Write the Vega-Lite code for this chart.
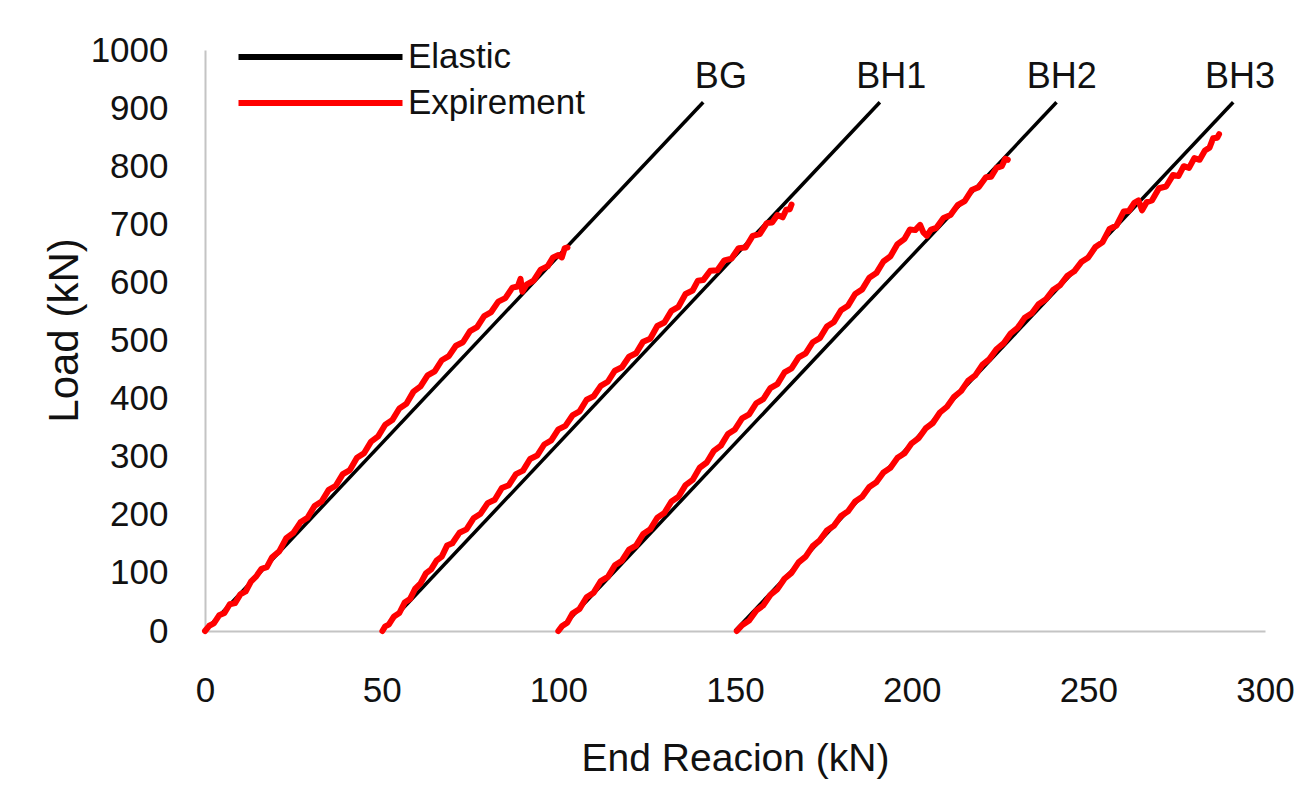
{
  "$schema": "https://vega.github.io/schema/vega-lite/v6.json",
  "width": 1060,
  "height": 581,
  "autosize": {"type": "none"},
  "padding": {"left": 205, "top": 50, "right": 31, "bottom": 161},
  "background": "white",
  "config": {
    "view": {"stroke": null},
    "font": "Liberation Sans, Arial, sans-serif"
  },
  "datasets": {
    "elastic": [
      {"series": "Elastic", "girder": "BG", "er": 0, "load": 0},
      {"series": "Elastic", "girder": "BG", "er": 141, "load": 910},
      {"series": "Elastic", "girder": "BH1", "er": 50, "load": 0},
      {"series": "Elastic", "girder": "BH1", "er": 191, "load": 910},
      {"series": "Elastic", "girder": "BH2", "er": 100, "load": 0},
      {"series": "Elastic", "girder": "BH2", "er": 241, "load": 910},
      {"series": "Elastic", "girder": "BH3", "er": 150, "load": 0},
      {"series": "Elastic", "girder": "BH3", "er": 291, "load": 910}
    ],
    "experiment": [
      {"series": "Expirement", "girder": "BG", "er": 0, "load": 0},
      {"series": "Expirement", "girder": "BG", "er": 1.2, "load": 9},
      {"series": "Expirement", "girder": "BG", "er": 2.5, "load": 13},
      {"series": "Expirement", "girder": "BG", "er": 4, "load": 27},
      {"series": "Expirement", "girder": "BG", "er": 5.5, "load": 31},
      {"series": "Expirement", "girder": "BG", "er": 7, "load": 46},
      {"series": "Expirement", "girder": "BG", "er": 8.5, "load": 48},
      {"series": "Expirement", "girder": "BG", "er": 10, "load": 63},
      {"series": "Expirement", "girder": "BG", "er": 11.5, "load": 68},
      {"series": "Expirement", "girder": "BG", "er": 13, "load": 85},
      {"series": "Expirement", "girder": "BG", "er": 14.5, "load": 94},
      {"series": "Expirement", "girder": "BG", "er": 16, "load": 107},
      {"series": "Expirement", "girder": "BG", "er": 17.5, "load": 110},
      {"series": "Expirement", "girder": "BG", "er": 19, "load": 127},
      {"series": "Expirement", "girder": "BG", "er": 21, "load": 137},
      {"series": "Expirement", "girder": "BG", "er": 23, "load": 160},
      {"series": "Expirement", "girder": "BG", "er": 25, "load": 169},
      {"series": "Expirement", "girder": "BG", "er": 27, "load": 187},
      {"series": "Expirement", "girder": "BG", "er": 29, "load": 195},
      {"series": "Expirement", "girder": "BG", "er": 31, "load": 215},
      {"series": "Expirement", "girder": "BG", "er": 33, "load": 223},
      {"series": "Expirement", "girder": "BG", "er": 35, "load": 243},
      {"series": "Expirement", "girder": "BG", "er": 37, "load": 250},
      {"series": "Expirement", "girder": "BG", "er": 39, "load": 270},
      {"series": "Expirement", "girder": "BG", "er": 41, "load": 277},
      {"series": "Expirement", "girder": "BG", "er": 43, "load": 298},
      {"series": "Expirement", "girder": "BG", "er": 45, "load": 306},
      {"series": "Expirement", "girder": "BG", "er": 47, "load": 326},
      {"series": "Expirement", "girder": "BG", "er": 49, "load": 335},
      {"series": "Expirement", "girder": "BG", "er": 51, "load": 355},
      {"series": "Expirement", "girder": "BG", "er": 53, "load": 363},
      {"series": "Expirement", "girder": "BG", "er": 55, "load": 383},
      {"series": "Expirement", "girder": "BG", "er": 57, "load": 391},
      {"series": "Expirement", "girder": "BG", "er": 59, "load": 412},
      {"series": "Expirement", "girder": "BG", "er": 61, "load": 421},
      {"series": "Expirement", "girder": "BG", "er": 63, "load": 440},
      {"series": "Expirement", "girder": "BG", "er": 65, "load": 447},
      {"series": "Expirement", "girder": "BG", "er": 67, "load": 466},
      {"series": "Expirement", "girder": "BG", "er": 69, "load": 473},
      {"series": "Expirement", "girder": "BG", "er": 71, "load": 491},
      {"series": "Expirement", "girder": "BG", "er": 73, "load": 497},
      {"series": "Expirement", "girder": "BG", "er": 75, "load": 516},
      {"series": "Expirement", "girder": "BG", "er": 77, "load": 523},
      {"series": "Expirement", "girder": "BG", "er": 79, "load": 542},
      {"series": "Expirement", "girder": "BG", "er": 81, "load": 549},
      {"series": "Expirement", "girder": "BG", "er": 83, "load": 567},
      {"series": "Expirement", "girder": "BG", "er": 85, "load": 573},
      {"series": "Expirement", "girder": "BG", "er": 87, "load": 591},
      {"series": "Expirement", "girder": "BG", "er": 88.5, "load": 593},
      {"series": "Expirement", "girder": "BG", "er": 89.3, "load": 606},
      {"series": "Expirement", "girder": "BG", "er": 89.8, "load": 584},
      {"series": "Expirement", "girder": "BG", "er": 91, "load": 596},
      {"series": "Expirement", "girder": "BG", "er": 93, "load": 603},
      {"series": "Expirement", "girder": "BG", "er": 95, "load": 622},
      {"series": "Expirement", "girder": "BG", "er": 97, "load": 628},
      {"series": "Expirement", "girder": "BG", "er": 98.5, "load": 643},
      {"series": "Expirement", "girder": "BG", "er": 100, "load": 647},
      {"series": "Expirement", "girder": "BG", "er": 101, "load": 643},
      {"series": "Expirement", "girder": "BG", "er": 101.8, "load": 659},
      {"series": "Expirement", "girder": "BG", "er": 102.6, "load": 660},

      {"series": "Expirement", "girder": "BH1", "er": 50.2, "load": 0},
      {"series": "Expirement", "girder": "BH1", "er": 51, "load": 8},
      {"series": "Expirement", "girder": "BH1", "er": 52, "load": 11},
      {"series": "Expirement", "girder": "BH1", "er": 53.5, "load": 25},
      {"series": "Expirement", "girder": "BH1", "er": 55, "load": 31},
      {"series": "Expirement", "girder": "BH1", "er": 56.5, "load": 49},
      {"series": "Expirement", "girder": "BH1", "er": 58, "load": 55},
      {"series": "Expirement", "girder": "BH1", "er": 59.5, "load": 73},
      {"series": "Expirement", "girder": "BH1", "er": 61, "load": 82},
      {"series": "Expirement", "girder": "BH1", "er": 62.5, "load": 99},
      {"series": "Expirement", "girder": "BH1", "er": 64, "load": 106},
      {"series": "Expirement", "girder": "BH1", "er": 65.5, "load": 121},
      {"series": "Expirement", "girder": "BH1", "er": 67, "load": 128},
      {"series": "Expirement", "girder": "BH1", "er": 68.5, "load": 147},
      {"series": "Expirement", "girder": "BH1", "er": 70, "load": 151},
      {"series": "Expirement", "girder": "BH1", "er": 72, "load": 169},
      {"series": "Expirement", "girder": "BH1", "er": 74, "load": 175},
      {"series": "Expirement", "girder": "BH1", "er": 76, "load": 194},
      {"series": "Expirement", "girder": "BH1", "er": 78, "load": 202},
      {"series": "Expirement", "girder": "BH1", "er": 80, "load": 220},
      {"series": "Expirement", "girder": "BH1", "er": 82, "load": 226},
      {"series": "Expirement", "girder": "BH1", "er": 84, "load": 246},
      {"series": "Expirement", "girder": "BH1", "er": 86, "load": 251},
      {"series": "Expirement", "girder": "BH1", "er": 88, "load": 270},
      {"series": "Expirement", "girder": "BH1", "er": 90, "load": 276},
      {"series": "Expirement", "girder": "BH1", "er": 92, "load": 296},
      {"series": "Expirement", "girder": "BH1", "er": 94, "load": 302},
      {"series": "Expirement", "girder": "BH1", "er": 96, "load": 321},
      {"series": "Expirement", "girder": "BH1", "er": 98, "load": 328},
      {"series": "Expirement", "girder": "BH1", "er": 100, "load": 347},
      {"series": "Expirement", "girder": "BH1", "er": 102, "load": 353},
      {"series": "Expirement", "girder": "BH1", "er": 104, "load": 371},
      {"series": "Expirement", "girder": "BH1", "er": 106, "load": 378},
      {"series": "Expirement", "girder": "BH1", "er": 108, "load": 398},
      {"series": "Expirement", "girder": "BH1", "er": 110, "load": 404},
      {"series": "Expirement", "girder": "BH1", "er": 112, "load": 422},
      {"series": "Expirement", "girder": "BH1", "er": 114, "load": 429},
      {"series": "Expirement", "girder": "BH1", "er": 116, "load": 448},
      {"series": "Expirement", "girder": "BH1", "er": 118, "load": 454},
      {"series": "Expirement", "girder": "BH1", "er": 120, "load": 472},
      {"series": "Expirement", "girder": "BH1", "er": 122, "load": 478},
      {"series": "Expirement", "girder": "BH1", "er": 124, "load": 498},
      {"series": "Expirement", "girder": "BH1", "er": 126, "load": 503},
      {"series": "Expirement", "girder": "BH1", "er": 128, "load": 525},
      {"series": "Expirement", "girder": "BH1", "er": 130, "load": 531},
      {"series": "Expirement", "girder": "BH1", "er": 132, "load": 551},
      {"series": "Expirement", "girder": "BH1", "er": 134, "load": 558},
      {"series": "Expirement", "girder": "BH1", "er": 136, "load": 580},
      {"series": "Expirement", "girder": "BH1", "er": 138, "load": 586},
      {"series": "Expirement", "girder": "BH1", "er": 139.5, "load": 603},
      {"series": "Expirement", "girder": "BH1", "er": 141, "load": 604},
      {"series": "Expirement", "girder": "BH1", "er": 143, "load": 620},
      {"series": "Expirement", "girder": "BH1", "er": 145, "load": 621},
      {"series": "Expirement", "girder": "BH1", "er": 147, "load": 638},
      {"series": "Expirement", "girder": "BH1", "er": 149, "load": 641},
      {"series": "Expirement", "girder": "BH1", "er": 151, "load": 659},
      {"series": "Expirement", "girder": "BH1", "er": 153, "load": 660},
      {"series": "Expirement", "girder": "BH1", "er": 155, "load": 680},
      {"series": "Expirement", "girder": "BH1", "er": 157, "load": 683},
      {"series": "Expirement", "girder": "BH1", "er": 159, "load": 702},
      {"series": "Expirement", "girder": "BH1", "er": 160.5, "load": 703},
      {"series": "Expirement", "girder": "BH1", "er": 162, "load": 716},
      {"series": "Expirement", "girder": "BH1", "er": 163.5, "load": 712},
      {"series": "Expirement", "girder": "BH1", "er": 164.5, "load": 725},
      {"series": "Expirement", "girder": "BH1", "er": 165.5, "load": 726},
      {"series": "Expirement", "girder": "BH1", "er": 166, "load": 734},

      {"series": "Expirement", "girder": "BH2", "er": 100, "load": 0},
      {"series": "Expirement", "girder": "BH2", "er": 101, "load": 8},
      {"series": "Expirement", "girder": "BH2", "er": 102.5, "load": 14},
      {"series": "Expirement", "girder": "BH2", "er": 104, "load": 30},
      {"series": "Expirement", "girder": "BH2", "er": 106, "load": 38},
      {"series": "Expirement", "girder": "BH2", "er": 108, "load": 58},
      {"series": "Expirement", "girder": "BH2", "er": 110, "load": 66},
      {"series": "Expirement", "girder": "BH2", "er": 112, "load": 86},
      {"series": "Expirement", "girder": "BH2", "er": 114, "load": 93},
      {"series": "Expirement", "girder": "BH2", "er": 116, "load": 113},
      {"series": "Expirement", "girder": "BH2", "er": 118, "load": 121},
      {"series": "Expirement", "girder": "BH2", "er": 120, "load": 140},
      {"series": "Expirement", "girder": "BH2", "er": 122, "load": 147},
      {"series": "Expirement", "girder": "BH2", "er": 124, "load": 167},
      {"series": "Expirement", "girder": "BH2", "er": 126, "load": 175},
      {"series": "Expirement", "girder": "BH2", "er": 128, "load": 195},
      {"series": "Expirement", "girder": "BH2", "er": 130, "load": 203},
      {"series": "Expirement", "girder": "BH2", "er": 132, "load": 223},
      {"series": "Expirement", "girder": "BH2", "er": 134, "load": 231},
      {"series": "Expirement", "girder": "BH2", "er": 136, "load": 251},
      {"series": "Expirement", "girder": "BH2", "er": 138, "load": 260},
      {"series": "Expirement", "girder": "BH2", "er": 140, "load": 281},
      {"series": "Expirement", "girder": "BH2", "er": 142, "load": 290},
      {"series": "Expirement", "girder": "BH2", "er": 144, "load": 310},
      {"series": "Expirement", "girder": "BH2", "er": 146, "load": 319},
      {"series": "Expirement", "girder": "BH2", "er": 148, "load": 339},
      {"series": "Expirement", "girder": "BH2", "er": 150, "load": 347},
      {"series": "Expirement", "girder": "BH2", "er": 152, "load": 366},
      {"series": "Expirement", "girder": "BH2", "er": 154, "load": 373},
      {"series": "Expirement", "girder": "BH2", "er": 156, "load": 392},
      {"series": "Expirement", "girder": "BH2", "er": 158, "load": 399},
      {"series": "Expirement", "girder": "BH2", "er": 160, "load": 418},
      {"series": "Expirement", "girder": "BH2", "er": 162, "load": 425},
      {"series": "Expirement", "girder": "BH2", "er": 164, "load": 445},
      {"series": "Expirement", "girder": "BH2", "er": 166, "load": 452},
      {"series": "Expirement", "girder": "BH2", "er": 168, "load": 471},
      {"series": "Expirement", "girder": "BH2", "er": 170, "load": 478},
      {"series": "Expirement", "girder": "BH2", "er": 172, "load": 497},
      {"series": "Expirement", "girder": "BH2", "er": 174, "load": 504},
      {"series": "Expirement", "girder": "BH2", "er": 176, "load": 524},
      {"series": "Expirement", "girder": "BH2", "er": 178, "load": 532},
      {"series": "Expirement", "girder": "BH2", "er": 180, "load": 552},
      {"series": "Expirement", "girder": "BH2", "er": 182, "load": 560},
      {"series": "Expirement", "girder": "BH2", "er": 184, "load": 580},
      {"series": "Expirement", "girder": "BH2", "er": 186, "load": 588},
      {"series": "Expirement", "girder": "BH2", "er": 188, "load": 608},
      {"series": "Expirement", "girder": "BH2", "er": 190, "load": 616},
      {"series": "Expirement", "girder": "BH2", "er": 192, "load": 636},
      {"series": "Expirement", "girder": "BH2", "er": 194, "load": 645},
      {"series": "Expirement", "girder": "BH2", "er": 196, "load": 666},
      {"series": "Expirement", "girder": "BH2", "er": 198, "load": 675},
      {"series": "Expirement", "girder": "BH2", "er": 199.5, "load": 691},
      {"series": "Expirement", "girder": "BH2", "er": 201, "load": 690},
      {"series": "Expirement", "girder": "BH2", "er": 202.4, "load": 699},
      {"series": "Expirement", "girder": "BH2", "er": 203.3, "load": 686},
      {"series": "Expirement", "girder": "BH2", "er": 204.3, "load": 680},
      {"series": "Expirement", "girder": "BH2", "er": 205.5, "load": 691},
      {"series": "Expirement", "girder": "BH2", "er": 207, "load": 694},
      {"series": "Expirement", "girder": "BH2", "er": 209, "load": 711},
      {"series": "Expirement", "girder": "BH2", "er": 211, "load": 716},
      {"series": "Expirement", "girder": "BH2", "er": 213, "load": 733},
      {"series": "Expirement", "girder": "BH2", "er": 215, "load": 740},
      {"series": "Expirement", "girder": "BH2", "er": 217, "load": 759},
      {"series": "Expirement", "girder": "BH2", "er": 219, "load": 764},
      {"series": "Expirement", "girder": "BH2", "er": 221, "load": 781},
      {"series": "Expirement", "girder": "BH2", "er": 222.5, "load": 782},
      {"series": "Expirement", "girder": "BH2", "er": 224, "load": 797},
      {"series": "Expirement", "girder": "BH2", "er": 225.5, "load": 800},
      {"series": "Expirement", "girder": "BH2", "er": 226.5, "load": 813},
      {"series": "Expirement", "girder": "BH2", "er": 227.2, "load": 811},

      {"series": "Expirement", "girder": "BH3", "er": 150.5, "load": 0},
      {"series": "Expirement", "girder": "BH3", "er": 152, "load": 10},
      {"series": "Expirement", "girder": "BH3", "er": 154, "load": 18},
      {"series": "Expirement", "girder": "BH3", "er": 156, "load": 35},
      {"series": "Expirement", "girder": "BH3", "er": 158, "load": 44},
      {"series": "Expirement", "girder": "BH3", "er": 160, "load": 62},
      {"series": "Expirement", "girder": "BH3", "er": 162, "load": 72},
      {"series": "Expirement", "girder": "BH3", "er": 164, "load": 90},
      {"series": "Expirement", "girder": "BH3", "er": 166, "load": 100},
      {"series": "Expirement", "girder": "BH3", "er": 168, "load": 118},
      {"series": "Expirement", "girder": "BH3", "er": 170, "load": 128},
      {"series": "Expirement", "girder": "BH3", "er": 172, "load": 146},
      {"series": "Expirement", "girder": "BH3", "er": 174, "load": 156},
      {"series": "Expirement", "girder": "BH3", "er": 176, "load": 173},
      {"series": "Expirement", "girder": "BH3", "er": 178, "load": 181},
      {"series": "Expirement", "girder": "BH3", "er": 180, "load": 198},
      {"series": "Expirement", "girder": "BH3", "er": 182, "load": 206},
      {"series": "Expirement", "girder": "BH3", "er": 184, "load": 223},
      {"series": "Expirement", "girder": "BH3", "er": 186, "load": 231},
      {"series": "Expirement", "girder": "BH3", "er": 188, "load": 248},
      {"series": "Expirement", "girder": "BH3", "er": 190, "load": 256},
      {"series": "Expirement", "girder": "BH3", "er": 192, "load": 273},
      {"series": "Expirement", "girder": "BH3", "er": 194, "load": 281},
      {"series": "Expirement", "girder": "BH3", "er": 196, "load": 298},
      {"series": "Expirement", "girder": "BH3", "er": 198, "load": 306},
      {"series": "Expirement", "girder": "BH3", "er": 200, "load": 323},
      {"series": "Expirement", "girder": "BH3", "er": 202, "load": 332},
      {"series": "Expirement", "girder": "BH3", "er": 204, "load": 349},
      {"series": "Expirement", "girder": "BH3", "er": 206, "load": 358},
      {"series": "Expirement", "girder": "BH3", "er": 208, "load": 376},
      {"series": "Expirement", "girder": "BH3", "er": 210, "load": 386},
      {"series": "Expirement", "girder": "BH3", "er": 212, "load": 403},
      {"series": "Expirement", "girder": "BH3", "er": 214, "load": 413},
      {"series": "Expirement", "girder": "BH3", "er": 216, "load": 431},
      {"series": "Expirement", "girder": "BH3", "er": 218, "load": 440},
      {"series": "Expirement", "girder": "BH3", "er": 220, "load": 458},
      {"series": "Expirement", "girder": "BH3", "er": 222, "load": 468},
      {"series": "Expirement", "girder": "BH3", "er": 224, "load": 485},
      {"series": "Expirement", "girder": "BH3", "er": 226, "load": 495},
      {"series": "Expirement", "girder": "BH3", "er": 228, "load": 512},
      {"series": "Expirement", "girder": "BH3", "er": 230, "load": 522},
      {"series": "Expirement", "girder": "BH3", "er": 232, "load": 539},
      {"series": "Expirement", "girder": "BH3", "er": 234, "load": 547},
      {"series": "Expirement", "girder": "BH3", "er": 236, "load": 563},
      {"series": "Expirement", "girder": "BH3", "er": 238, "load": 571},
      {"series": "Expirement", "girder": "BH3", "er": 240, "load": 587},
      {"series": "Expirement", "girder": "BH3", "er": 242, "load": 595},
      {"series": "Expirement", "girder": "BH3", "er": 244, "load": 611},
      {"series": "Expirement", "girder": "BH3", "er": 246, "load": 619},
      {"series": "Expirement", "girder": "BH3", "er": 248, "load": 635},
      {"series": "Expirement", "girder": "BH3", "er": 250, "load": 643},
      {"series": "Expirement", "girder": "BH3", "er": 252, "load": 661},
      {"series": "Expirement", "girder": "BH3", "er": 254, "load": 669},
      {"series": "Expirement", "girder": "BH3", "er": 256, "load": 692},
      {"series": "Expirement", "girder": "BH3", "er": 258, "load": 698},
      {"series": "Expirement", "girder": "BH3", "er": 260, "load": 722},
      {"series": "Expirement", "girder": "BH3", "er": 261.5, "load": 723},
      {"series": "Expirement", "girder": "BH3", "er": 263, "load": 737},
      {"series": "Expirement", "girder": "BH3", "er": 264.2, "load": 741},
      {"series": "Expirement", "girder": "BH3", "er": 265.2, "load": 724},
      {"series": "Expirement", "girder": "BH3", "er": 266.5, "load": 738},
      {"series": "Expirement", "girder": "BH3", "er": 268, "load": 741},
      {"series": "Expirement", "girder": "BH3", "er": 270, "load": 762},
      {"series": "Expirement", "girder": "BH3", "er": 272, "load": 765},
      {"series": "Expirement", "girder": "BH3", "er": 274, "load": 785},
      {"series": "Expirement", "girder": "BH3", "er": 275.5, "load": 783},
      {"series": "Expirement", "girder": "BH3", "er": 277, "load": 800},
      {"series": "Expirement", "girder": "BH3", "er": 278.5, "load": 797},
      {"series": "Expirement", "girder": "BH3", "er": 280, "load": 814},
      {"series": "Expirement", "girder": "BH3", "er": 281.5, "load": 811},
      {"series": "Expirement", "girder": "BH3", "er": 283, "load": 827},
      {"series": "Expirement", "girder": "BH3", "er": 284.3, "load": 832},
      {"series": "Expirement", "girder": "BH3", "er": 285.3, "load": 848},
      {"series": "Expirement", "girder": "BH3", "er": 286.5, "load": 849},
      {"series": "Expirement", "girder": "BH3", "er": 287, "load": 855}
    ],
    "labels": [
      {"girder": "BG", "er": 146, "load": 935},
      {"girder": "BH1", "er": 194.2, "load": 935},
      {"girder": "BH2", "er": 242.5, "load": 935},
      {"girder": "BH3", "er": 292.9, "load": 935}
    ]
  },
  "layer": [
    {
      "data": {"name": "elastic"},
      "mark": {"type": "line", "strokeWidth": 3.5},
      "encoding": {
        "x": {
          "field": "er", "type": "quantitative",
          "scale": {"domain": [0, 300], "nice": false},
          "axis": {
            "values": [0, 50, 100, 150, 200, 250, 300],
            "title": "End Reacion (kN)",
            "grid": false, "ticks": false, "labelFlush": false,
            "domainColor": "#c4c4c4", "domainWidth": 2,
            "labelFontSize": 35, "labelColor": "#111111", "labelPadding": 42,
            "titleFontSize": 39, "titleFontWeight": "normal", "titleColor": "#111111",
            "titleBaseline": "alphabetic", "titleY": 139
          }
        },
        "y": {
          "field": "load", "type": "quantitative",
          "scale": {"domain": [0, 1000], "nice": false},
          "axis": {
            "values": [0, 100, 200, 300, 400, 500, 600, 700, 800, 900, 1000],
            "format": "d",
            "title": "Load (kN)",
            "grid": false, "ticks": false, "labelFlush": false,
            "domainColor": "#c4c4c4", "domainWidth": 2,
            "labelFontSize": 35, "labelColor": "#111111", "labelPadding": 37,
            "titleFontSize": 42, "titleFontWeight": "normal", "titleColor": "#111111",
            "titleAngle": -90, "titleBaseline": "bottom", "titleAlign": "center",
            "titleX": -119, "titleY": 280
          }
        },
        "color": {
          "field": "series", "type": "nominal",
          "scale": {"domain": ["Elastic", "Expirement"], "range": ["#000000", "#ff0000"]},
          "legend": {
            "title": null, "orient": "none", "legendX": 92, "legendY": -16.5,
            "symbolType": "M -4 0 H 4", "symbolSize": 1681, "symbolStrokeWidth": 6,
            "labelOffset": 64, "labelFontSize": 35, "labelColor": "#111111",
            "rowPadding": 4, "padding": 0, "labelLimit": 400
          }
        },
        "detail": {"field": "girder"}
      }
    },
    {
      "data": {"name": "experiment"},
      "mark": {"type": "line", "strokeWidth": 6, "strokeJoin": "round", "strokeCap": "round"},
      "encoding": {
        "x": {"field": "er", "type": "quantitative"},
        "y": {"field": "load", "type": "quantitative"},
        "color": {"field": "series", "type": "nominal"},
        "detail": {"field": "girder"}
      }
    },
    {
      "data": {"name": "labels"},
      "mark": {
        "type": "text", "fontSize": 36, "align": "center", "baseline": "alphabetic",
        "color": "#111111"
      },
      "encoding": {
        "x": {"field": "er", "type": "quantitative"},
        "y": {"field": "load", "type": "quantitative"},
        "text": {"field": "girder"}
      }
    }
  ]
}
